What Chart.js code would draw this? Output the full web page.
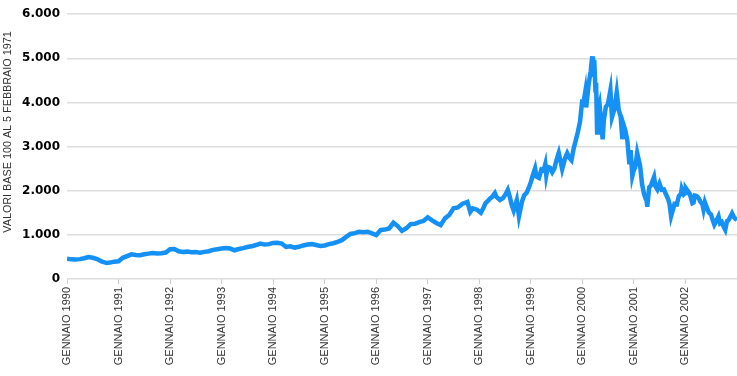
<!DOCTYPE html>
<html>
<head>
<meta charset="utf-8">
<script src="https://cdn.jsdelivr.net/npm/chart.js@4.4.1/dist/chart.umd.min.js"></script>
<style>
  html, body { margin: 0; padding: 0; background: #fff; }
  #box { width: 737px; height: 376px; }
</style>
</head>
<body>
<div id="box"><canvas id="indice"></canvas></div>
<script>
// tick labels
const anni = [1990, 1991, 1992, 1993, 1994, 1995, 1996, 1997, 1998, 1999, 2000, 2001, 2002];
const tickY = [0, 1000, 2000, 3000, 4000, 5000, 6000];
const titoloY = "VALORI BASE 100 AL 5 FEBBRAIO 1971";

// serie (date + valori)
const date = [
  "1990-01-01","1990-02-01","1990-03-01","1990-04-01","1990-05-01","1990-06-01",
  "1990-07-01","1990-08-01","1990-09-01","1990-10-10","1990-11-01","1990-12-01",
  "1991-01-01","1991-02-01","1991-03-01","1991-04-01","1991-05-01","1991-06-01",
  "1991-07-01","1991-08-01","1991-09-01","1991-10-01","1991-11-01","1991-12-01",
  "1992-01-01","1992-02-01","1992-03-01","1992-04-01","1992-05-01","1992-06-01",
  "1992-07-01","1992-08-01","1992-09-01","1992-10-01","1992-11-01","1992-12-01",
  "1993-01-01","1993-02-01","1993-03-01","1993-04-01","1993-05-01","1993-06-01",
  "1993-07-01","1993-08-01","1993-09-01","1993-10-01","1993-11-01","1993-12-01",
  "1994-01-01","1994-02-01","1994-03-01","1994-04-01","1994-05-01","1994-06-01",
  "1994-07-01","1994-08-01","1994-09-01","1994-10-01","1994-11-01","1994-12-01",
  "1995-01-01","1995-02-01","1995-03-01","1995-04-01","1995-05-01","1995-06-01",
  "1995-07-01","1995-08-01","1995-09-01","1995-10-01","1995-11-01","1995-12-01",
  "1996-01-01","1996-02-01","1996-03-01","1996-04-01","1996-05-01","1996-06-01",
  "1996-07-01","1996-08-01","1996-09-01","1996-10-01","1996-11-01","1996-12-01",
  "1997-01-01","1997-02-01","1997-03-01","1997-04-01","1997-05-01","1997-06-01",
  "1997-07-01","1997-08-01","1997-09-01","1997-10-08","1997-10-28","1997-11-15","1997-12-15",
  "1998-01-12","1998-02-01","1998-02-15","1998-03-01","1998-03-15","1998-04-01","1998-04-20",
  "1998-05-01","1998-05-25","1998-06-15","1998-07-01","1998-07-20","1998-08-05","1998-08-15",
  "1998-09-01","1998-09-23","1998-10-08","1998-10-31","1998-11-15","1998-12-01","1998-12-15","1998-12-31",
  "1999-01-15","1999-01-31","1999-02-10","1999-02-28","1999-03-15","1999-03-31","1999-04-12",
  "1999-04-19","1999-04-30","1999-05-15","1999-05-31","1999-06-15","1999-06-30","1999-07-16",
  "1999-07-31","1999-08-10","1999-08-31","1999-09-15","1999-09-30","1999-10-15","1999-10-31",
  "1999-11-15","1999-11-30","1999-12-15","1999-12-31",
  "2000-01-04","2000-01-21","2000-01-28","2000-02-15","2000-02-29","2000-03-10","2000-03-15",
  "2000-03-24","2000-04-03","2000-04-07","2000-04-14","2000-04-19","2000-05-01","2000-05-23",
  "2000-06-01","2000-06-15","2000-06-30","2000-07-17","2000-07-28","2000-08-15","2000-09-01",
  "2000-09-15","2000-09-29","2000-10-10","2000-10-20","2000-10-31","2000-11-15","2000-11-30",
  "2000-12-08","2000-12-20","2000-12-31",
  "2001-01-10","2001-01-24","2001-02-15","2001-02-28","2001-03-12","2001-03-16","2001-03-22",
  "2001-03-29","2001-04-04","2001-04-18","2001-04-30","2001-05-22","2001-05-31","2001-06-15",
  "2001-06-30","2001-07-15","2001-07-31","2001-08-15","2001-08-31","2001-09-10","2001-09-21",
  "2001-10-15","2001-10-31","2001-11-15","2001-11-30","2001-12-05","2001-12-20","2001-12-31",
  "2002-01-04","2002-01-31","2002-02-20","2002-02-28","2002-03-06","2002-03-19","2002-03-31",
  "2002-04-15","2002-04-30","2002-05-07","2002-05-17","2002-05-31","2002-06-15","2002-06-30",
  "2002-07-10","2002-07-23","2002-08-01","2002-08-22","2002-09-03","2002-09-15","2002-09-30",
  "2002-10-09","2002-10-21","2002-10-31","2002-11-15","2002-11-27","2002-12-10","2002-12-20","2002-12-31"
];
const valori = [
  461, 445, 440, 450, 470, 498,
  480, 452, 400, 361, 372, 393,
  400, 480, 520, 559, 545, 537,
  560, 575, 589, 580, 582, 600,
  674, 680, 628, 610, 620, 605,
  610, 598, 615, 630, 660, 675,
  690, 703, 690, 651, 680, 700,
  726, 740, 770, 804, 780, 790,
  817, 820, 804, 726, 740, 712,
  730, 760, 781, 790, 770, 749,
  760, 790, 810, 840, 880, 954,
  1020, 1040, 1068, 1060, 1070, 1032,
  993, 1107, 1120, 1146, 1274, 1200,
  1089, 1150, 1244, 1250, 1290, 1313,
  1397, 1330, 1270, 1221, 1374, 1450,
  1603, 1620, 1700, 1745, 1520, 1600, 1570,
  1502, 1620, 1720, 1770, 1820, 1860, 1945,
  1860, 1790, 1830, 1900, 2021, 1850, 1700,
  1550, 1790, 1420, 1770, 1900, 1950, 2050, 2193,
  2350, 2505, 2320, 2290, 2480, 2460, 2600,
  2350, 2540, 2520, 2420, 2500, 2690, 2860,
  2640, 2490, 2740, 2850, 2746, 2690, 2966,
  3140, 3336, 3570, 4069,
  3901, 4235, 3887, 4420, 4696, 5048, 4583,
  4963, 4223, 4446, 3321, 3793, 3958, 3164,
  3600, 3900, 3966, 4274, 3663, 3850, 4234,
  3835, 3673, 3168, 3483, 3370, 3140, 2598,
  2917, 2332, 2471,
  2524, 2859, 2552, 2151, 1923, 1890, 1830,
  1820, 1638, 2079, 2116, 2313, 2110, 2030,
  2161, 2020, 2027, 1920, 1805, 1695, 1423,
  1700, 1690, 1880, 1931, 2046, 1918, 1950,
  2059, 1934, 1718, 1731, 1890, 1880, 1845,
  1757, 1688, 1574, 1741, 1616, 1504, 1463,
  1346, 1229, 1280, 1422, 1263, 1290, 1172,
  1114, 1309, 1330, 1411, 1487, 1400, 1363, 1335
];

// data -> anno decimale
function annoDecimale(s) {
  const p = s.split("-");
  return Number(p[0]) + (Number(p[1]) - 1) / 12 + (Number(p[2]) - 1) / 365;
}
const punti = date.map((d, i) => ({ x: annoDecimale(d), y: valori[i] }));

function migliaia(v) {
  return String(v).replace(/\B(?=(\d{3})+(?!\d))/g, ".");
}

// titolo asse y, disegnato a mano per poterlo centrare come nell'originale
const titoloAsse = {
  id: "titoloAsse",
  afterDraw(chart) {
    const ctx = chart.ctx;
    ctx.save();
    ctx.translate(8, 132);
    ctx.rotate(-Math.PI / 2);
    ctx.font = "10.8px 'Liberation Sans', Arial, sans-serif";
    ctx.fillStyle = "#333";
    ctx.textAlign = "center";
    ctx.textBaseline = "middle";
    ctx.fillText(titoloY, 0, 0);
    ctx.restore();
  }
};

new Chart(document.getElementById("indice"), {
  type: "line",
  data: {
    datasets: [{
      data: punti,
      borderColor: "#1590f5",
      borderWidth: 4.5,
      pointRadius: 0,
      tension: 0,
      fill: false
    }]
  },
  options: {
    responsive: true,
    maintainAspectRatio: false,
    animation: false,
    layout: { padding: { top: 12, right: 0, left: 0, bottom: 0 } },
    plugins: { legend: { display: false }, tooltip: { enabled: false } },
    scales: {
      x: {
        type: "linear",
        min: anni[0],
        max: anni[anni.length - 1] + 1,
        afterBuildTicks: s => { s.ticks = anni.map(a => ({ value: a })); },
        afterFit: s => { s.height = 97; },
        border: { display: false },
        grid: { drawOnChartArea: false, tickLength: 5, color: "#cccccc", lineWidth: 1 },
        ticks: {
          minRotation: 90,
          maxRotation: 90,
          padding: 3,
          color: "#333",
          font: { family: "'Liberation Sans', Arial, sans-serif", size: 11 },
          callback: v => "GENNAIO " + v
        }
      },
      y: {
        min: tickY[0],
        max: tickY[tickY.length - 1],
        afterBuildTicks: s => { s.ticks = tickY.map(v => ({ value: v })); },
        afterFit: s => { s.width = 67; },
        border: { display: false },
        grid: { color: "#dddddd", lineWidth: 1.5, drawTicks: false },
        ticks: {
          padding: 7,
          color: "#000",
          font: { family: "'DejaVu Sans', sans-serif", size: 12, weight: "bold" },
          callback: v => migliaia(v)
        }
      }
    }
  },
  plugins: [titoloAsse]
});
</script>
</body>
</html>
